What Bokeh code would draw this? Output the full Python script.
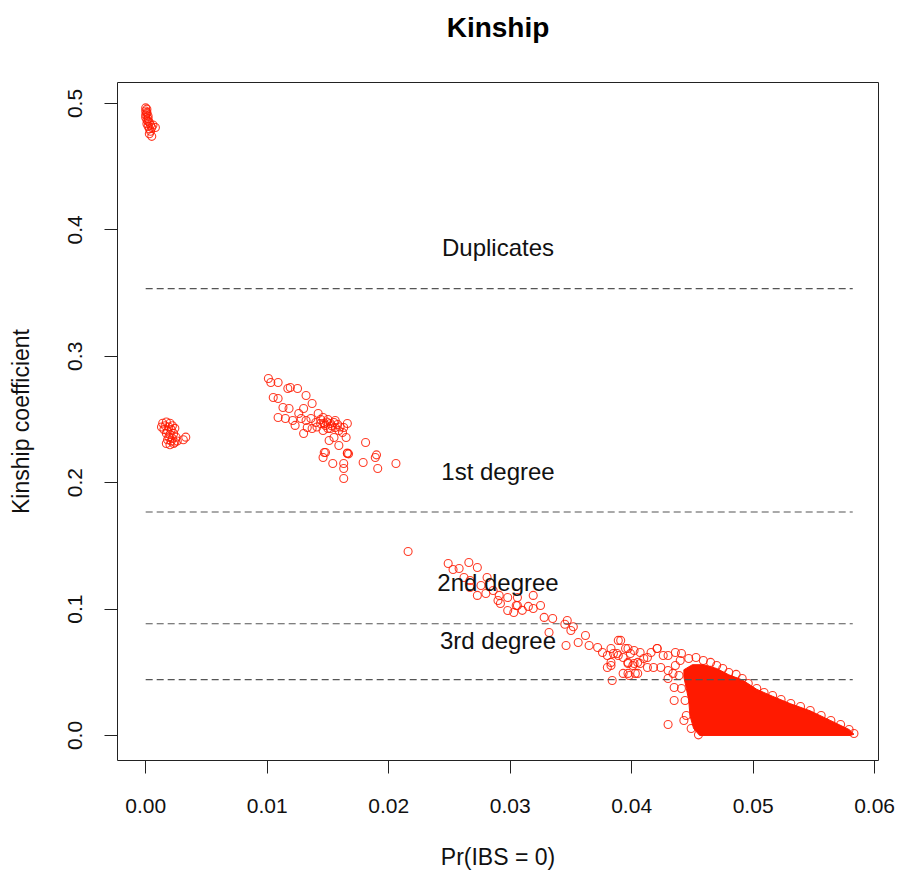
from bokeh.plotting import figure
from bokeh.models import FixedTicker, NumeralTickFormatter, Range1d, Title
from bokeh.embed import file_html
from bokeh.resources import INLINE

# ---- data ----
dup_x = [0.0000, 0.0001, 0.0000, 0.0001, 0.0002, 0.0000, 0.0001, 0.0002, 0.0003, 0.0001, 0.0004,
         0.0002, 0.0005, 0.0003, 0.0006, 0.0004, 0.0003, 0.0005, 0.0008, 0.0002, 0.0001, 0.0000]
dup_y = [0.4965, 0.4955, 0.4940, 0.4920, 0.4900, 0.4890, 0.4870, 0.4860, 0.4850, 0.4840, 0.4830,
         0.4820, 0.4810, 0.4800, 0.4830, 0.4780, 0.4760, 0.4740, 0.4810, 0.4880, 0.4930, 0.4910]

po_x = [0.0014, 0.0017, 0.0020, 0.0016, 0.0019, 0.0022, 0.0015, 0.0018, 0.0021, 0.0024, 0.0017, 0.0020,
        0.0023, 0.0019, 0.0022, 0.0025, 0.0018, 0.0021, 0.0024, 0.0020, 0.0023, 0.0026, 0.0031, 0.0033,
        0.0017, 0.0013]
po_y = [0.247, 0.248, 0.247, 0.245, 0.244, 0.245, 0.242, 0.241, 0.242, 0.243, 0.239, 0.238,
        0.239, 0.236, 0.235, 0.236, 0.234, 0.233, 0.232, 0.230, 0.231, 0.233, 0.234, 0.236,
        0.231, 0.244]

fs_x = [0.0101, 0.0103, 0.0109, 0.0117, 0.0119, 0.0125, 0.0132, 0.0105, 0.0109, 0.0113, 0.0118, 0.0137,
        0.0130, 0.0126, 0.0142, 0.0109, 0.0115, 0.0121, 0.0128, 0.0132, 0.0136, 0.0140, 0.0144, 0.0148,
        0.0123, 0.0133, 0.0137, 0.0146, 0.0152, 0.0130,
        0.0146, 0.0147, 0.0150, 0.0152, 0.0155, 0.0156, 0.0159, 0.0162, 0.0163, 0.0166, 0.0165, 0.0156,
        0.0155, 0.0151, 0.0159, 0.0166, 0.0181, 0.0147, 0.0146, 0.0154, 0.0163, 0.0163, 0.0179, 0.0189,
        0.0191, 0.0206, 0.0163, 0.0148, 0.0190, 0.0166, 0.0167,
        0.0144, 0.0149, 0.0153, 0.0150, 0.0141, 0.0158, 0.0160]
fs_y = [0.2824, 0.2793, 0.2793, 0.2745, 0.2753, 0.2745, 0.2690, 0.2674, 0.2666, 0.2595, 0.2587, 0.2627,
        0.2587, 0.2547, 0.2547, 0.2516, 0.2508, 0.2492, 0.2508, 0.2492, 0.2508, 0.2476, 0.2468, 0.2453,
        0.2453, 0.2437, 0.2429, 0.2413, 0.2429, 0.2389,
        0.2516, 0.2468, 0.2429, 0.2468, 0.2476, 0.2437, 0.2413, 0.2397, 0.2437, 0.2468, 0.2358, 0.2492,
        0.2358, 0.2334, 0.2294, 0.2231, 0.2318, 0.2239, 0.2199, 0.2152, 0.2152, 0.2112, 0.2160, 0.2199,
        0.2112, 0.2152, 0.2033, 0.2239, 0.2220, 0.2235, 0.2228,
        0.2500, 0.2480, 0.2450, 0.2500, 0.2440, 0.2460, 0.2440]

deg2_x = [0.0216, 0.0249, 0.0253, 0.0258, 0.0266, 0.0273, 0.0262, 0.0267, 0.0281, 0.0276, 0.0286, 0.0273,
          0.0291, 0.0298, 0.0306, 0.0319, 0.0306, 0.0315, 0.0319, 0.0325, 0.0298, 0.0328, 0.0335, 0.0347,
          0.0350, 0.0332, 0.0346, 0.0356, 0.0362, 0.0365, 0.0372, 0.0376, 0.0383, 0.0389, 0.0397, 0.0388,
          0.0393, 0.0383, 0.0397, 0.0402, 0.0410, 0.0413, 0.0397, 0.0405, 0.0421,
          0.0267, 0.0280, 0.0290, 0.0292, 0.0305, 0.0303, 0.0310, 0.0345, 0.0352]
deg2_y = [0.1456, 0.1361, 0.1313, 0.1321, 0.1369, 0.1329, 0.1250, 0.1226, 0.1250, 0.1187, 0.1147, 0.1108,
          0.1108, 0.1092, 0.1092, 0.1108, 0.1028, 0.1021, 0.1005, 0.1028, 0.0989, 0.0934, 0.0926, 0.0910,
          0.0831, 0.0815, 0.0712, 0.0736, 0.0791, 0.0712, 0.0696, 0.0657, 0.0688, 0.0752, 0.0688, 0.0649,
          0.0617, 0.0554, 0.0578, 0.0570, 0.0609, 0.0538, 0.0491, 0.0491, 0.0688,
          0.1171, 0.1123, 0.1068, 0.1044, 0.1028, 0.0973, 0.0990, 0.0880, 0.0860]

unrel_x = [0.0391, 0.0395, 0.0380, 0.0385, 0.0389, 0.0399, 0.0402, 0.0407, 0.0380, 0.0383, 0.0397, 0.0401,
           0.0405, 0.0413, 0.0416, 0.0421, 0.0426, 0.0430, 0.0436, 0.0441, 0.0393, 0.0398, 0.0403, 0.0384,
           0.0407, 0.0418, 0.0424, 0.0430, 0.0434, 0.0430, 0.0435, 0.0435, 0.0443, 0.0430,
           0.0440, 0.0447, 0.0453, 0.0459, 0.0465, 0.0470, 0.0475, 0.0480, 0.0486, 0.0491, 0.0496, 0.0503,
           0.0509, 0.0516, 0.0523, 0.0531, 0.0539, 0.0547, 0.0556, 0.0564, 0.0572, 0.0579, 0.0583, 0.0455,
           0.0449, 0.0445, 0.0444, 0.0441, 0.0439, 0.0436]
unrel_y = [0.0752, 0.0688, 0.0633, 0.0649, 0.0633, 0.0649, 0.0672, 0.0657, 0.0538, 0.0578, 0.0570, 0.0554,
           0.0578, 0.0617, 0.0657, 0.0688, 0.0633, 0.0633, 0.0657, 0.0649, 0.0491, 0.0475, 0.0491, 0.0435,
           0.0570, 0.0538, 0.0538, 0.0514, 0.0491, 0.0451, 0.0380, 0.0277, 0.0119, 0.0087,
           0.0593, 0.0609, 0.0617, 0.0593, 0.0578, 0.0554, 0.0530, 0.0498, 0.0483, 0.0451, 0.0411, 0.0372,
           0.0340, 0.0316, 0.0285, 0.0253, 0.0229, 0.0198, 0.0158, 0.0119, 0.0087, 0.0047, 0.0016, 0.0005,
           0.0055, 0.0158, 0.0277, 0.0372, 0.0475, 0.0554]

# outline of the saturated cloud of unrelated pairs
dense_x = [0.0443, 0.0450, 0.0459, 0.0470, 0.0480, 0.0491, 0.0503, 0.0516, 0.0531, 0.0547, 0.0564,
           0.0579, 0.0583, 0.0580, 0.0456, 0.0451, 0.0448, 0.0447, 0.0445, 0.0443]
dense_y = [0.0520, 0.0560, 0.0560, 0.0530, 0.0480, 0.0440, 0.0365, 0.0310, 0.0250, 0.0195, 0.0117,
           0.0047, 0.0010, 0.0000, 0.0000, 0.0055, 0.0158, 0.0277, 0.0372, 0.0460]

thresholds = [0.3536, 0.1768, 0.0884, 0.0442]
threshold_span = [0.0, 0.0582]
region_labels = ["Duplicates", "1st degree", "2nd degree", "3rd degree"]
region_label_x = [0.0290, 0.0290, 0.0290, 0.0290]
region_label_y = [0.386, 0.209, 0.121, 0.0752]

x_ticks = [0.00, 0.01, 0.02, 0.03, 0.04, 0.05, 0.06]
y_ticks = [0.0, 0.1, 0.2, 0.3, 0.4, 0.5]

FONT = "Liberation Sans"
PT_COLOR = "#ff1a00"
INK = "#111111"

p = figure(width=904, height=881, output_backend="svg", toolbar_location=None,
           x_range=Range1d(-0.00232, 0.06032), y_range=Range1d(-0.0198, 0.5166),
           min_border_left=117, min_border_right=26, min_border_top=82, min_border_bottom=121)
p.background_fill_color = "white"
p.border_fill_color = "white"
p.outline_line_color = "#222222"
p.outline_line_width = 1
p.grid.visible = False

# spacer (closest to the frame) then the real title above it
spacer = Title(text=" ", text_font_size="10px", standoff=27, text_color="white")
p.add_layout(spacer, "above")
main_title = Title(text="Kinship", align="center", text_font=FONT, text_font_size="28px",
                   text_font_style="bold", text_color="black", standoff=0)
p.add_layout(main_title, "above")

for ax in (p.xaxis[0], p.yaxis[0]):
    ax.axis_line_color = None
    ax.major_tick_in = 0
    ax.major_tick_out = 13
    ax.minor_tick_line_color = None
    ax.major_tick_line_color = "#222222"
    ax.major_label_text_font = FONT
    ax.major_label_text_font_size = "21px"
    ax.major_label_text_color = INK
    ax.axis_label_text_font = FONT
    ax.axis_label_text_font_size = "23px"
    ax.axis_label_text_font_style = "normal"
    ax.axis_label_text_color = INK

p.xaxis.ticker = FixedTicker(ticks=x_ticks)
p.xaxis.formatter = NumeralTickFormatter(format="0.00")
p.xaxis.axis_label = "Pr(IBS = 0)"
p.xaxis.major_label_standoff = 25
p.xaxis.axis_label_standoff = 28

p.yaxis.ticker = FixedTicker(ticks=y_ticks)
p.yaxis.formatter = NumeralTickFormatter(format="0.0")
p.yaxis.axis_label = "Kinship coefficient"
p.yaxis.major_label_orientation = "vertical"
p.yaxis.major_label_standoff = 22
p.yaxis.axis_label_standoff = 32

# dense cloud
p.patch(dense_x, dense_y, fill_color=PT_COLOR, line_color=PT_COLOR, line_width=1)

for xs, ys in ((dup_x, dup_y), (po_x, po_y), (fs_x, fs_y), (deg2_x, deg2_y), (unrel_x, unrel_y)):
    p.scatter(xs, ys, marker="circle", size=8, fill_color=None, line_color=PT_COLOR,
              line_width=1.1, line_alpha=0.85)

# threshold lines (drawn over the points)
for t in thresholds:
    p.line(threshold_span, [t, t], line_color="#555555", line_width=1.2, line_dash="7 4")

p.text(region_label_x, region_label_y, text=region_labels, text_align="center",
       text_baseline="middle", text_font_size="24px", text_color=INK,
       text_font={"value": FONT})

open("out.html", "w").write(file_html(p, INLINE))
